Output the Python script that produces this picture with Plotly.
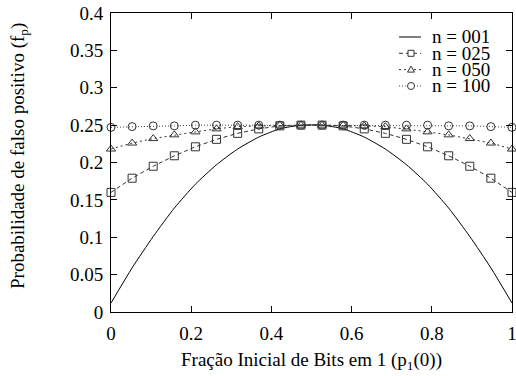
import plotly.graph_objects as go

x_vals = [i / 19 for i in range(20)]

n001 = [0.012, 0.059, 0.101, 0.139, 0.171, 0.197, 0.218, 0.234, 0.245, 0.250,
        0.250, 0.245, 0.234, 0.218, 0.197, 0.171, 0.139, 0.101, 0.059, 0.012]
n025 = [0.160, 0.179, 0.195, 0.209, 0.221, 0.231, 0.239, 0.245, 0.249, 0.250,
        0.250, 0.249, 0.245, 0.239, 0.231, 0.221, 0.209, 0.195, 0.179, 0.160]
n050 = [0.218, 0.226, 0.232, 0.237, 0.241, 0.245, 0.248, 0.249, 0.250, 0.250,
        0.250, 0.250, 0.249, 0.248, 0.245, 0.241, 0.237, 0.232, 0.226, 0.218]
n100 = [0.247, 0.248, 0.249, 0.249, 0.250, 0.250, 0.250, 0.250, 0.250, 0.250,
        0.250, 0.250, 0.250, 0.250, 0.250, 0.250, 0.249, 0.249, 0.248, 0.247]

series_names = ["n = 001", "n = 025", "n = 050", "n = 100"]

x_ticks = [0, 0.2, 0.4, 0.6, 0.8, 1]
x_ticklabels = ["0", "0.2", "0.4", "0.6", "0.8", "1"]
y_ticks = [0, 0.05, 0.1, 0.15, 0.2, 0.25, 0.3, 0.35, 0.4]
y_ticklabels = ["0", "0.05", "0.1", "0.15", "0.2", "0.25", "0.3", "0.35", "0.4"]

FONT = "Liberation Serif"
FS = 19
W, H = 516, 376
ML, MR, MT, MB = 111, 4, 13, 64
PW, PH = W - ML - MR, H - MT - MB

styles = [
    dict(dash="solid", color="black", symbol=None),
    dict(dash="4px,3px", color="#333333", symbol="square-open"),
    dict(dash="2px,3px", color="#333333", symbol="triangle-up-open"),
    dict(dash="1px,2px", color="#444444", symbol="circle-open"),
]

fig = go.Figure()
for name, ys, st in zip(series_names, [n001, n025, n050, n100], styles):
    if st["symbol"] is None:
        fig.add_trace(go.Scatter(x=x_vals, y=ys, mode="lines", name=name,
                                 line=dict(color=st["color"], width=1, shape="spline", smoothing=0.6),
                                 cliponaxis=False, showlegend=False))
    else:
        fig.add_trace(go.Scatter(x=x_vals, y=ys, mode="lines+markers", name=name,
                                 line=dict(color=st["color"], width=1, dash=st["dash"]),
                                 marker=dict(symbol=st["symbol"], size=8, color="#333333",
                                             line=dict(width=1)),
                                 cliponaxis=False, showlegend=False))

# manual gnuplot-like legend (tight rows)
def px_x(p):
    return (p - ML) / PW

def px_y(p):
    return (H - MB - p) / PH

row_px = [37, 53.3, 69.6, 86]
for name, st, ry in zip(series_names, styles, row_px):
    yy = px_y(ry)
    fig.add_shape(type="line", xref="paper", yref="paper",
                  x0=px_x(399), x1=px_x(421), y0=yy, y1=yy,
                  line=dict(color=st["color"], width=1, dash=st["dash"]))
    cx = px_x(411)
    if st["symbol"] == "square-open":
        fig.add_shape(type="rect", xref="paper", yref="paper", xsizemode="pixel", ysizemode="pixel",
                      xanchor=cx, yanchor=yy, x0=-3, x1=3, y0=-3, y1=3,
                      line=dict(color="#333333", width=1), fillcolor="white")
    elif st["symbol"] == "triangle-up-open":
        fig.add_shape(type="path", xref="paper", yref="paper", xsizemode="pixel", ysizemode="pixel",
                      xanchor=cx, yanchor=yy, path="M -3.5 -2.5 L 3.5 -2.5 L 0 3.5 Z",
                      line=dict(color="#333333", width=1), fillcolor="white")
    elif st["symbol"] == "circle-open":
        fig.add_shape(type="circle", xref="paper", yref="paper", xsizemode="pixel", ysizemode="pixel",
                      xanchor=cx, yanchor=yy, x0=-3.5, x1=3.5, y0=-3.5, y1=3.5,
                      line=dict(color="#333333", width=1), fillcolor="white")
    fig.add_annotation(text=name, xref="paper", yref="paper", x=px_x(430), y=yy,
                       xanchor="left", yanchor="middle", showarrow=False,
                       font=dict(family=FONT, size=FS, color="black"))

# axis titles
fig.add_annotation(text="Fração Inicial de Bits em 1 (p<sub>1</sub>(0))", xref="paper", yref="paper",
                   x=px_x(311), y=px_y(361), xanchor="center", yanchor="middle", showarrow=False,
                   font=dict(family=FONT, size=FS, color="black"))
fig.add_annotation(text="Probabilidade de falso positivo (f<sub>p</sub>)", xref="paper", yref="paper",
                   x=px_x(19), y=px_y(156), xanchor="center", yanchor="middle", showarrow=False,
                   textangle=-90, font=dict(family=FONT, size=FS, color="black"))

axis_common = dict(showline=True, linecolor="black", linewidth=1, mirror="allticks",
                   ticks="inside", ticklen=6, tickcolor="black", showgrid=False,
                   zeroline=False, tickfont=dict(family=FONT, size=FS, color="black"),
                   ticklabeloverflow="allow")

fig.update_layout(
    width=W, height=H,
    margin=dict(l=ML, r=MR, t=MT, b=MB, autoexpand=False),
    plot_bgcolor="white", paper_bgcolor="white",
    font=dict(family=FONT, size=FS, color="black"),
    xaxis=dict(range=[0, 1], tickvals=x_ticks, ticktext=x_ticklabels,
               ticklabelstandoff=4, **axis_common),
    yaxis=dict(range=[0, 0.4], tickvals=y_ticks, ticktext=y_ticklabels,
               ticklabelstandoff=3, **axis_common),
    showlegend=False,
)

fig.write_html("out.html", config={"displayModeBar": False},
               post_script="document.body.style.margin='0';")
